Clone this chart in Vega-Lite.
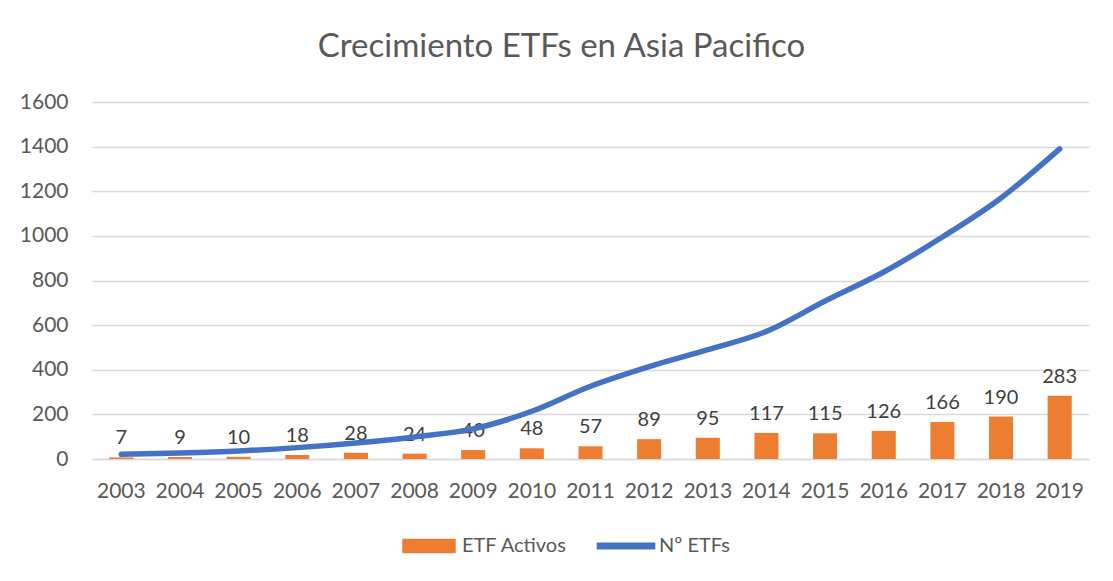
{
  "$schema": "https://vega.github.io/schema/vega-lite/v6.json",
  "width": 997,
  "height": 357,
  "autosize": {"type": "none"},
  "padding": {"left": 92, "top": 102, "right": 24, "bottom": 122},
  "background": "white",
  "title": {"text": "Crecimiento ETFs en Asia Pacifico", "fontSize": 33, "font": "Lato", "fontWeight": "normal", "color": "#595959", "baseline": "alphabetic", "offset": 1, "anchor": "middle", "dx": -29},
  "data": {"values": [
    {"year": "2003", "activos": 7, "etfs": 21},
    {"year": "2004", "activos": 9, "etfs": 27},
    {"year": "2005", "activos": 10, "etfs": 36},
    {"year": "2006", "activos": 18, "etfs": 51},
    {"year": "2007", "activos": 28, "etfs": 72},
    {"year": "2008", "activos": 24, "etfs": 99},
    {"year": "2009", "activos": 40, "etfs": 135},
    {"year": "2010", "activos": 48, "etfs": 214},
    {"year": "2011", "activos": 57, "etfs": 326},
    {"year": "2012", "activos": 89, "etfs": 414},
    {"year": "2013", "activos": 95, "etfs": 490},
    {"year": "2014", "activos": 117, "etfs": 572},
    {"year": "2015", "activos": 115, "etfs": 708},
    {"year": "2016", "activos": 126, "etfs": 838},
    {"year": "2017", "activos": 166, "etfs": 995},
    {"year": "2018", "activos": 190, "etfs": 1170},
    {"year": "2019", "activos": 283, "etfs": 1390}
  ]},
  "encoding": {
    "x": {"field": "year", "type": "ordinal", "scale": {"paddingInner": 0.59, "paddingOuter": 0.295},
      "axis": {"title": null, "labelAngle": 0, "labelFontSize": 21, "labelFont": "Lato", "labelColor": "#595959", "labelPadding": 21, "ticks": false, "domainColor": "#d9d9d9", "domainWidth": 1.5}}
  },
  "layer": [
    {
      "mark": {"type": "bar", "color": "#ED7D31"},
      "encoding": {
        "y": {"field": "activos", "type": "quantitative", "scale": {"domain": [0, 1600]},
          "axis": {"title": null, "format": "d", "values": [0,200,400,600,800,1000,1200,1400,1600], "labelFontSize": 21, "labelFont": "Lato", "labelColor": "#595959", "labelPadding": 24, "ticks": false, "domain": false, "gridColor": "#d9d9d9", "gridWidth": 1.5}},
        "color": {"datum": "ETF Activos", "type": "nominal", "scale": {"domain": ["ETF Activos", "Nº ETFs"], "range": ["#ED7D31", "#4472C4"]},
          "legend": {"title": null, "orient": "none", "legendX": 310, "legendY": 417, "direction": "horizontal", "labelFontSize": 20, "labelFont": "Lato", "labelColor": "#595959", "symbolSize": 2700, "columnPadding": 27, "labelOffset": 6,
            "encode": {"symbols": {"update": {"shape": {"signal": "datum.value === 'ETF Activos' ? 'M-1,-0.25H1V0.25H-1Z' : 'M-1.1,-0.11H1.1V0.11H-1.1Z'"}, "fill": {"signal": "datum.value === 'ETF Activos' ? '#ED7D31' : '#4472C4'"}, "stroke": {"value": "transparent"}}}}}}
      }
    },
    {
      "mark": {"type": "text", "baseline": "bottom", "dy": -9, "fontSize": 20, "font": "Lato", "color": "#404040"},
      "encoding": {
        "y": {"field": "activos", "type": "quantitative"},
        "text": {"field": "activos", "type": "quantitative"}
      }
    },
    {
      "mark": {"type": "line", "strokeWidth": 5.5, "interpolate": "monotone", "strokeCap": "round"},
      "encoding": {
        "y": {"field": "etfs", "type": "quantitative"},
        "color": {"datum": "Nº ETFs", "type": "nominal"}
      }
    }
  ],
  "config": {"view": {"stroke": null}}
}
